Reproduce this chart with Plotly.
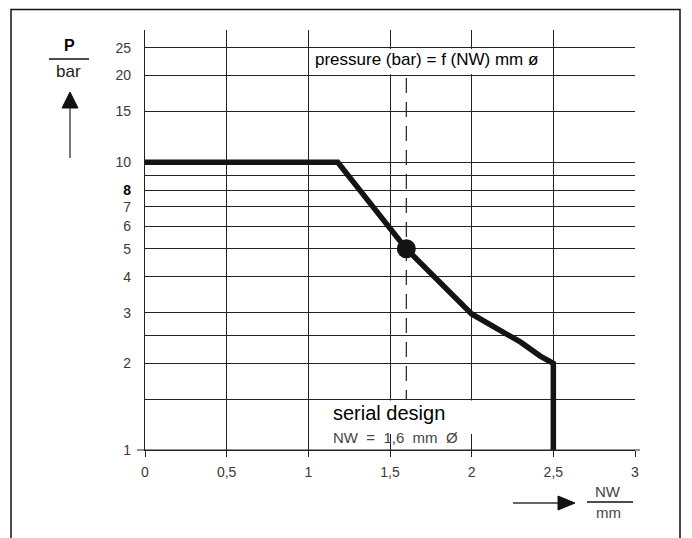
import plotly.graph_objects as go
import math

# ---- data ----
nw_mm = [0, 1.18, 1.6, 1.8, 2.0, 2.15, 2.3, 2.42, 2.5, 2.5]
pressure_bar = [10, 10, 5, 3.85, 2.97, 2.65, 2.37, 2.12, 2.0, 1]
serial_nw = [1.6]
serial_p = [5]
dash_y = [19.6, 1.5]

x_tickvals = [0, 0.5, 1, 1.5, 2, 2.5, 3]
x_ticktext = ["0", "0,5", "1", "1,5", "2", "2,5", "3"]
y_tickvals = [1, 1.5, 2, 2.5, 3, 4, 5, 6, 7, 8, 9, 10, 15, 20, 25]
y_ticktext = ["1", "", "2", "", "3", "4", "5", "6", "7",
              "<span style='color:#000'><b>8</b></span>", "", "10", "15", "20", "25"]

OFF = 8  # page body margin
W, H = 684, 530
L, T = 145 - OFF, 30 - OFF
PW, PH = 490, 420
R, B = W - L - PW, H - T - PH
YTOP = 1.4594


def px(x):
    return (x - OFF - L) / PW


def py(y):
    return (T + PH - (y - OFF)) / PH


fig = go.Figure()
fig.add_trace(go.Scatter(x=[serial_nw[0], serial_nw[0]], y=dash_y, mode="lines",
                         line=dict(color="#222", width=1.2, dash="15px,9px"),
                         hoverinfo="skip", showlegend=False))
fig.add_trace(go.Scatter(x=nw_mm, y=pressure_bar, mode="lines",
                         line=dict(color="#141414", width=5.5),
                         showlegend=False))
fig.add_trace(go.Scatter(x=serial_nw, y=serial_p, mode="markers",
                         marker=dict(color="#141414", size=19),
                         showlegend=False))

tickfont = dict(family="Liberation Sans, Arial", size=14, color="#3a3a3a")

fig.update_layout(
    width=W, height=H,
    margin=dict(l=L, r=R, t=T, b=B),
    paper_bgcolor="white", plot_bgcolor="white",
    font=dict(family="Liberation Sans, Arial", color="#000"),
    xaxis=dict(range=[0, 3], tickvals=x_tickvals, ticktext=x_ticktext,
               showgrid=True, gridcolor="#222", gridwidth=1.2,
               showline=True, linecolor="#222", linewidth=1.2,
               ticks="outside", ticklen=6, tickcolor="#222", tickwidth=1.2,
               ticklabelstandoff=3, tickfont=tickfont, zeroline=False),
    yaxis=dict(type="log", range=[0, YTOP], tickvals=y_tickvals, ticktext=y_ticktext,
               showgrid=True, gridcolor="#222", gridwidth=1.2,
               showline=True, linecolor="#222", linewidth=1.2,
               ticks="", ticklabelstandoff=10, tickfont=tickfont, zeroline=False),
)

shapes = []
# white boxes behind texts
shapes.append(dict(type="rect", xref="x domain", yref="y domain",
                   x0=1.01 / 3, x1=2.49 / 3,
                   y0=math.log10(20) / YTOP + 0.003, y1=math.log10(25) / YTOP - 0.003,
                   fillcolor="white", line=dict(width=0), layer="above"))
shapes.append(dict(type="rect", xref="paper", yref="paper",
                   x0=px(322), x1=px(482), y0=py(434), y1=math.log10(1.5) / YTOP - 0.003,
                   fillcolor="white", line=dict(width=0), layer="above"))
# x-axis line extension
shapes.append(dict(type="line", xref="paper", yref="paper", x0=px(137), x1=px(640),
                   y0=0, y1=0, line=dict(color="#222", width=1.2)))
# outer frame
shapes.append(dict(type="rect", xref="paper", yref="paper", x0=px(11), x1=px(680),
                   y0=py(560), y1=py(9.5), line=dict(color="#111", width=1.5)))
# P/bar fraction line + arrow
shapes.append(dict(type="line", xref="paper", yref="paper", x0=px(49), x1=px(89),
                   y0=py(59), y1=py(59), line=dict(color="#111", width=1.5)))
shapes.append(dict(type="line", xref="paper", yref="paper", x0=px(70), x1=px(70),
                   y0=py(106), y1=py(158), line=dict(color="#333", width=1.3)))
shapes.append(dict(type="path", xref="paper", yref="paper",
                   path=f"M {px(70)} {py(92)} L {px(62)} {py(108)} L {px(78)} {py(108)} Z",
                   fillcolor="#111", line=dict(color="#111", width=1)))
# NW/mm fraction line + arrow
shapes.append(dict(type="line", xref="paper", yref="paper", x0=px(587), x1=px(633),
                   y0=py(502), y1=py(502), line=dict(color="#111", width=1.5)))
shapes.append(dict(type="line", xref="paper", yref="paper", x0=px(513), x1=px(560),
                   y0=py(503), y1=py(503), line=dict(color="#333", width=1.3)))
shapes.append(dict(type="path", xref="paper", yref="paper",
                   path=f"M {px(575)} {py(503)} L {px(558)} {py(496)} L {px(558)} {py(510)} Z",
                   fillcolor="#111", line=dict(color="#111", width=1)))
fig.update_layout(shapes=shapes)

ann = [
    dict(text="pressure (bar) = f (NW) mm ø", x=px(313), y=py(60), xanchor="left",
         yanchor="middle", font=dict(size=17, color="#000")),
    dict(text="serial design", x=px(331), y=py(413), xanchor="left", yanchor="middle",
         font=dict(size=20, color="#000")),
    dict(text="NW  =  1,6  mm  Ø", x=px(331), y=py(437), xanchor="left", yanchor="middle",
         font=dict(size=15, color="#444")),
    dict(text="<b>P</b>", x=px(69), y=py(46), xanchor="center", yanchor="middle",
         font=dict(size=16, color="#000")),
    dict(text="bar", x=px(68), y=py(72), xanchor="center", yanchor="middle",
         font=dict(size=17, color="#222")),
    dict(text="NW", x=px(608), y=py(491), xanchor="center", yanchor="middle",
         font=dict(size=15, color="#444")),
    dict(text="mm", x=px(608), y=py(513), xanchor="center", yanchor="middle",
         font=dict(size=15, color="#444")),
]
for a in ann:
    a.update(xref="paper", yref="paper", showarrow=False)
fig.update_layout(annotations=ann)

fig.write_html("out.html")
